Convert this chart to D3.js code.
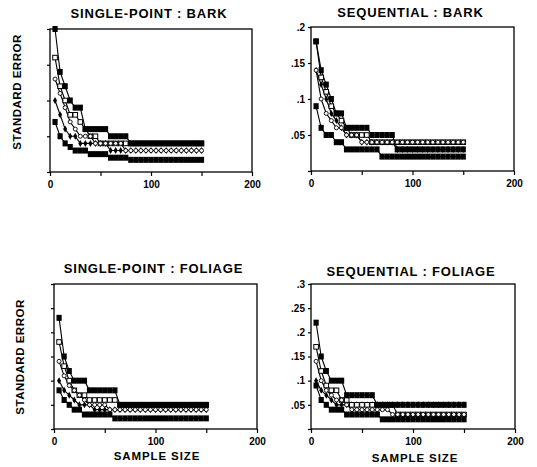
<!DOCTYPE html>
<html>
<head>
<meta charset="utf-8">
<script src="https://cdn.jsdelivr.net/npm/d3@7"></script>
<style>
  body { margin: 0; background: #fff; }
  text { font-family: "Liberation Sans", Arial, sans-serif; font-weight: bold; fill: #000; }
</style>
</head>
<body>
<svg id="chart" width="537" height="467"></svg>
<script>
// sample sizes where each estimate was recorded
const sampleSizes = [5,10,15,20,25,30,35,40,45,50,55,60,65,70,75,80,85,90,95,100,105,110,115,120,125,130,135,140,145,150];

// series order: filled square (high), open square, open circle, filled diamond, filled square (low)
const singleBark = [
  [.20,.14,.12,.10,.09,.09,.06,.06,.06,.06,.06,.05,.05,.05,.05,.04,.04,.04,.04,.04,.04,.04,.04,.04,.04,.04,.04,.04,.04,.04],
  [.16,.12,.10,.08,.08,.07,.06,.05,.05,.04,.04,.04,.04,.04,.04,.04,.04,.04,.04,.04,.04,.04,.04,.04,.04,.04,.04,.04,.04,.04],
  [.13,.11,.09,.07,.06,.05,.05,.05,.04,.04,.04,.04,.04,.04,.03,.03,.03,.03,.03,.03,.03,.03,.03,.03,.03,.03,.03,.03,.03,.03],
  [.10,.08,.06,.05,.05,.04,.04,.04,.04,.04,.04,.03,.03,.03,.03,.03,.03,.03,.03,.03,.03,.03,.03,.03,.03,.03,.03,.03,.03,.03],
  [.07,.05,.04,.035,.03,.03,.03,.025,.025,.025,.025,.02,.02,.02,.02,.017,.017,.017,.017,.017,.017,.017,.017,.017,.017,.017,.017,.017,.017,.017]
];
const seqBark = [
  [.18,.14,.12,.10,.08,.08,.06,.06,.06,.06,.06,.05,.05,.05,.05,.05,.03,.03,.03,.03,.03,.03,.03,.03,.03,.03,.03,.03,.03,.03],
  [.18,.13,.11,.09,.08,.07,.06,.05,.05,.05,.05,.04,.04,.04,.04,.04,.04,.04,.04,.04,.04,.04,.04,.04,.04,.04,.04,.04,.04,.04],
  [.14,.10,.08,.07,.06,.06,.05,.05,.05,.04,.04,.04,.04,.04,.04,.04,.04,.04,.04,.04,.04,.04,.04,.04,.04,.04,.04,.04,.04,.04],
  [.14,.12,.10,.08,.07,.06,.05,.05,.05,.04,.04,.04,.04,.04,.04,.04,.03,.03,.03,.03,.03,.03,.03,.03,.03,.03,.03,.03,.03,.03],
  [.09,.06,.05,.05,.04,.04,.03,.03,.03,.03,.03,.03,.03,.02,.02,.02,.02,.02,.02,.02,.02,.02,.02,.02,.02,.02,.02,.02,.02,.02]
];
const singleFoliage = [
  [.23,.15,.12,.10,.10,.10,.08,.08,.08,.08,.08,.08,.05,.05,.05,.05,.05,.05,.05,.05,.05,.05,.05,.05,.05,.05,.05,.05,.05,.05],
  [.18,.13,.10,.08,.07,.07,.06,.06,.06,.06,.06,.06,.05,.05,.05,.05,.05,.05,.05,.05,.05,.05,.05,.05,.05,.05,.05,.05,.05,.05],
  [.14,.11,.09,.08,.07,.06,.05,.05,.05,.05,.04,.04,.04,.04,.04,.04,.04,.04,.04,.04,.04,.04,.04,.04,.04,.04,.04,.04,.04,.04],
  [.10,.08,.07,.06,.05,.05,.05,.04,.04,.04,.04,.04,.04,.04,.04,.04,.04,.04,.04,.04,.04,.04,.04,.04,.04,.04,.04,.04,.04,.04],
  [.08,.06,.05,.04,.04,.03,.03,.03,.03,.03,.03,.022,.022,.022,.022,.022,.022,.022,.022,.022,.022,.022,.022,.022,.022,.022,.022,.022,.022,.022]
];
const seqFoliage = [
  [.22,.15,.12,.10,.10,.10,.07,.07,.07,.07,.07,.07,.05,.05,.05,.05,.05,.05,.05,.05,.05,.05,.05,.05,.05,.05,.05,.05,.05,.05],
  [.17,.12,.09,.08,.08,.06,.06,.05,.05,.05,.05,.05,.05,.05,.05,.05,.03,.03,.03,.03,.03,.03,.03,.03,.03,.03,.03,.03,.03,.03],
  [.14,.10,.08,.07,.06,.06,.05,.04,.04,.04,.04,.04,.04,.04,.04,.03,.03,.03,.03,.03,.03,.03,.03,.03,.03,.03,.03,.03,.03,.03],
  [.10,.08,.07,.06,.05,.05,.05,.05,.05,.05,.05,.05,.05,.05,.05,.05,.05,.05,.05,.05,.05,.05,.05,.05,.05,.05,.05,.05,.05,.05],
  [.09,.06,.05,.04,.04,.04,.03,.03,.03,.03,.03,.03,.03,.02,.02,.02,.02,.02,.02,.02,.02,.02,.02,.02,.02,.02,.02,.02,.02,.02]
];

const markerKinds = ['fsq', 'osq', 'ocirc', 'fdia', 'fsq'];
const barkTicks = [0, .05, .1, .15, .2];
const foliageTicks = [0, .05, .1, .15, .2, .25, .3];
const xTicks = [0, 50, 100, 150, 200];
const xTickLabels = ['0', '', '100', '', '200'];

// layout: frame box [left, top, right, bottom] in px
const panels = [
  { title: 'SINGLE-POINT : BARK',    data: singleBark,    ticks: barkTicks,    yLabels: false, box: [50, 29, 252, 172], titleY: 18 },
  { title: 'SEQUENTIAL : BARK',      data: seqBark,       ticks: barkTicks,    yLabels: true,  box: [311, 27, 514, 171], titleY: 17 },
  { title: 'SINGLE-POINT : FOLIAGE', data: singleFoliage, ticks: foliageTicks, yLabels: false, box: [54, 284, 257, 429], titleY: 273 },
  { title: 'SEQUENTIAL : FOLIAGE',   data: seqFoliage,    ticks: foliageTicks, yLabels: true,  box: [311, 284, 515, 429], titleY: 276 }
];

const svg = d3.select('#chart');
const fmt = v => v === 0 ? '' : String(v).replace(/^0/, '');

panels.forEach(p => {
  const [l, t, r, b] = p.box;
  const x = d3.scaleLinear().domain([0, 200]).range([l, r]);
  const y = d3.scaleLinear().domain([0, d3.max(p.ticks)]).range([b, t]);
  const g = svg.append('g');

  // title
  g.append('text').attr('x', (l + r) / 2 - 2).attr('y', p.titleY)
    .attr('text-anchor', 'middle').style('font-size', '13px').style('letter-spacing', '0.8px')
    .text(p.title);

  // axes
  const xAxis = g.append('g').attr('transform', `translate(0,${b})`)
    .call(d3.axisBottom(x).tickValues(xTicks).tickSize(4).tickPadding(5)
      .tickFormat((d, i) => xTickLabels[i]));
  const yAxis = g.append('g').attr('transform', `translate(${l},0)`)
    .call(d3.axisLeft(y).tickValues(p.ticks).tickSize(3).tickPadding(3)
      .tickFormat(d => p.yLabels ? fmt(d) : ''));
  [xAxis, yAxis].forEach(a => {
    a.select('.domain').remove();
    a.selectAll('line').attr('stroke', '#000').attr('stroke-width', 1.2);
    a.selectAll('text').style('font-size', '10px').attr('fill', '#000');
  });

  g.append('rect').attr('x', l).attr('y', t).attr('width', r - l).attr('height', b - t)
    .attr('fill', 'none').attr('stroke', '#000').attr('stroke-width', 1.3);

  // lines
  const line = d3.line().x((d, i) => x(sampleSizes[i])).y(d => y(d));
  p.data.forEach(s => {
    g.append('path').datum(s).attr('d', line)
      .attr('fill', 'none').attr('stroke', '#000').attr('stroke-width', 1.1);
  });

  // markers: diamonds and open ones first, filled squares on top
  [3, 1, 2, 4, 0].forEach(si => {
    const kind = markerKinds[si];
    const mg = g.append('g');
    p.data[si].forEach((v, i) => {
      const cx = x(sampleSizes[i]), cy = y(v);
      if (kind === 'fsq') {
        mg.append('rect').attr('x', cx - 2.6).attr('y', cy - 3).attr('width', 5.2).attr('height', 6).attr('fill', '#000');
      } else if (kind === 'osq') {
        mg.append('rect').attr('x', cx - 2.3).attr('y', cy - 2.3).attr('width', 4.6).attr('height', 4.6)
          .attr('fill', '#fff').attr('stroke', '#000').attr('stroke-width', 1);
      } else if (kind === 'ocirc') {
        mg.append('circle').attr('cx', cx).attr('cy', cy).attr('r', 2)
          .attr('fill', '#fff').attr('stroke', '#000').attr('stroke-width', 0.9);
      } else {
        mg.append('path').attr('d', d3.symbol(d3.symbolDiamond, 14)())
          .attr('transform', `translate(${cx},${cy})`).attr('fill', '#000');
      }
    });
  });
});

// shared axis titles
[[21, 92], [24, 357]].forEach(([cx, cy]) => {
  svg.append('text').attr('transform', `translate(${cx},${cy}) rotate(-90)`)
    .attr('text-anchor', 'middle').style('font-size', '11.5px').style('letter-spacing', '0.5px')
    .text('STANDARD ERROR');
});
[[157, 460], [415, 462]].forEach(([cx, cy]) => {
  svg.append('text').attr('x', cx).attr('y', cy).attr('text-anchor', 'middle')
    .style('font-size', '11.5px').style('letter-spacing', '0.9px').text('SAMPLE SIZE');
});
</script>
</body>
</html>
